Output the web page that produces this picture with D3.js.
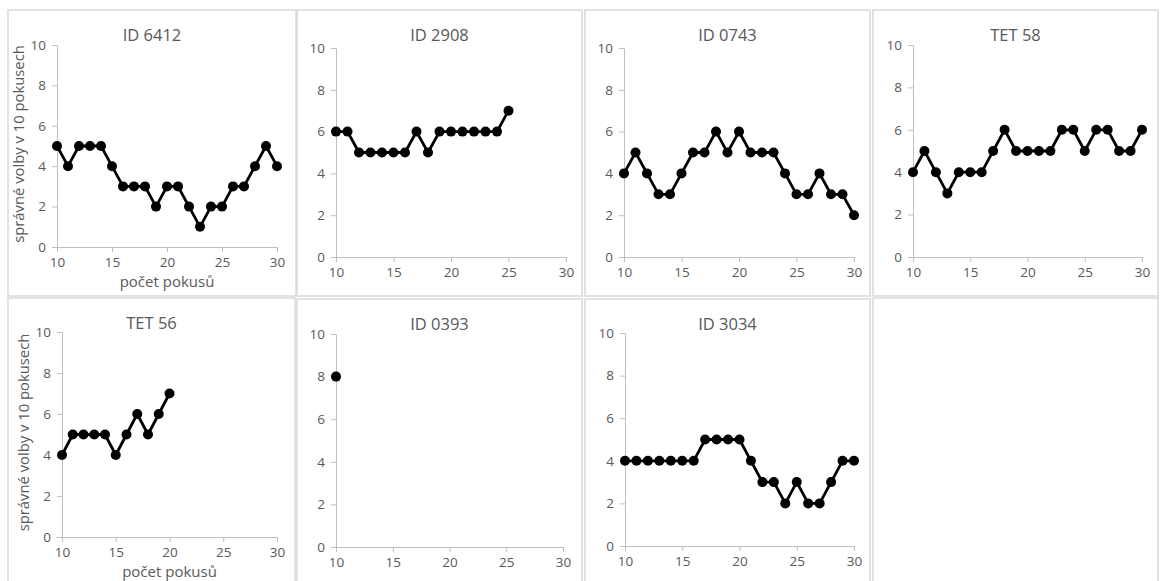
<!DOCTYPE html>
<html><head><meta charset="utf-8">
<script src="https://cdn.jsdelivr.net/npm/d3@7"></script>
<style>body{margin:0;background:#fff}svg{display:block}text{font-family:"Open Sans","Liberation Sans",sans-serif}</style>
</head><body>
<script>
const titles = ["ID 6412","ID 2908","ID 0743","TET 58","TET 56","ID 0393","ID 3034"];
const startTrial = 10;
const s6412 = [5,4,5,5,5,4,3,3,3,2,3,3,2,1,2,2,3,3,4,5,4];
const s2908 = [6,6,5,5,5,5,5,6,5,6,6,6,6,6,6,7];
const s0743 = [4,5,4,3,3,4,5,5,6,5,6,5,5,5,4,3,3,4,3,3,2];
const sT58  = [4,5,4,3,4,4,4,5,6,5,5,5,5,6,6,5,6,6,5,5,6];
const sT56  = [4,5,5,5,5,4,5,6,5,6,7];
const s0393 = [8];
const s3034 = [4,4,4,4,4,4,4,5,5,5,5,4,3,3,2,3,2,2,3,4,4];
const series = [s6412,s2908,s0743,sT58,sT56,s0393,s3034];
const xTicks = [10,15,20,25,30];
const yTicks = [0,2,4,6,8,10];
const yLabel = "správné volby v 10 pokusech";
const xLabel = "počet pokusů";

const W=1161,H=581;
const svg=d3.select("body").append("svg").attr("width",W).attr("height",H);

const panels=[
 {bx:8,by:10,bw:288,bh:286,l:57,r:277,t:45,b:247,axisLabels:true},
 {bx:297,by:10,bw:285,bh:286,l:336,r:566,t:48,b:257},
 {bx:585,by:10,bw:285,bh:286,l:624,r:854,t:48,b:257},
 {bx:873,by:10,bw:285,bh:286,l:913,r:1142,t:45,b:257},
 {bx:8,by:298,bw:287,bh:300,l:62,r:277,t:332,b:537,axisLabels:true},
 {bx:297,by:299,bw:285,bh:300,l:336,r:563,t:334,b:547},
 {bx:585,by:299,bw:285,bh:300,l:625,r:854,t:333,b:546}
];
svg.append("rect").attr("x",873).attr("y",298).attr("width",285).attr("height",300)
  .attr("fill","none").attr("stroke","#d9d9d9").attr("stroke-width",1.5);

panels.forEach((p,i)=>{
  const g=svg.append("g");
  g.append("rect").attr("x",p.bx).attr("y",p.by).attr("width",p.bw).attr("height",p.bh)
    .attr("fill","#fff").attr("stroke","#d9d9d9").attr("stroke-width",1.5);
  const x=d3.scaleLinear().domain([10,30]).range([p.l,p.r]);
  const y=d3.scaleLinear().domain([0,10]).range([p.b,p.t]);
  const xa=g.append("g").attr("transform",`translate(0,${p.b})`)
    .call(d3.axisBottom(x).tickValues(xTicks).tickSize(5).tickSizeOuter(0).tickPadding(5));
  const ya=g.append("g").attr("transform",`translate(${p.l},0)`)
    .call(d3.axisLeft(y).tickValues(yTicks).tickSize(5).tickSizeOuter(0).tickPadding(6));
  [xa,ya].forEach(a=>{
    a.select(".domain").attr("stroke","#bfbfbf").attr("stroke-width",1);
    a.selectAll(".tick line").attr("stroke","#bfbfbf");
    a.selectAll(".tick text").attr("fill","#595959").style("font-size","13.5px");
  });
  g.append("text").attr("x",p.bx+p.bw/2).attr("y",p.by+31).attr("text-anchor","middle")
    .attr("fill","#595959").style("font-size","16.5px").text(titles[i]);
  if(p.axisLabels){
    g.append("text").attr("x",(p.l+p.r)/2).attr("y",p.b+40).attr("text-anchor","middle")
      .attr("fill","#595959").style("font-size","15px").text(xLabel);
    g.append("text").attr("transform",`translate(${p.l-33},${(p.t+p.b)/2-2}) rotate(-90)`)
      .attr("text-anchor","middle").attr("fill","#595959").style("font-size","14.8px").text(yLabel);
  }
  const data=series[i].map((v,k)=>({t:startTrial+k,v}));
  g.append("path").datum(data).attr("fill","none").attr("stroke","#000").attr("stroke-width",2.8)
    .attr("stroke-linejoin","round")
    .attr("d",d3.line().x(d=>x(d.t)).y(d=>y(d.v)));
  g.selectAll("circle").data(data).join("circle").attr("cx",d=>x(d.t)).attr("cy",d=>y(d.v))
    .attr("r",5).attr("fill","#000");
});
</script>
</body></html>
